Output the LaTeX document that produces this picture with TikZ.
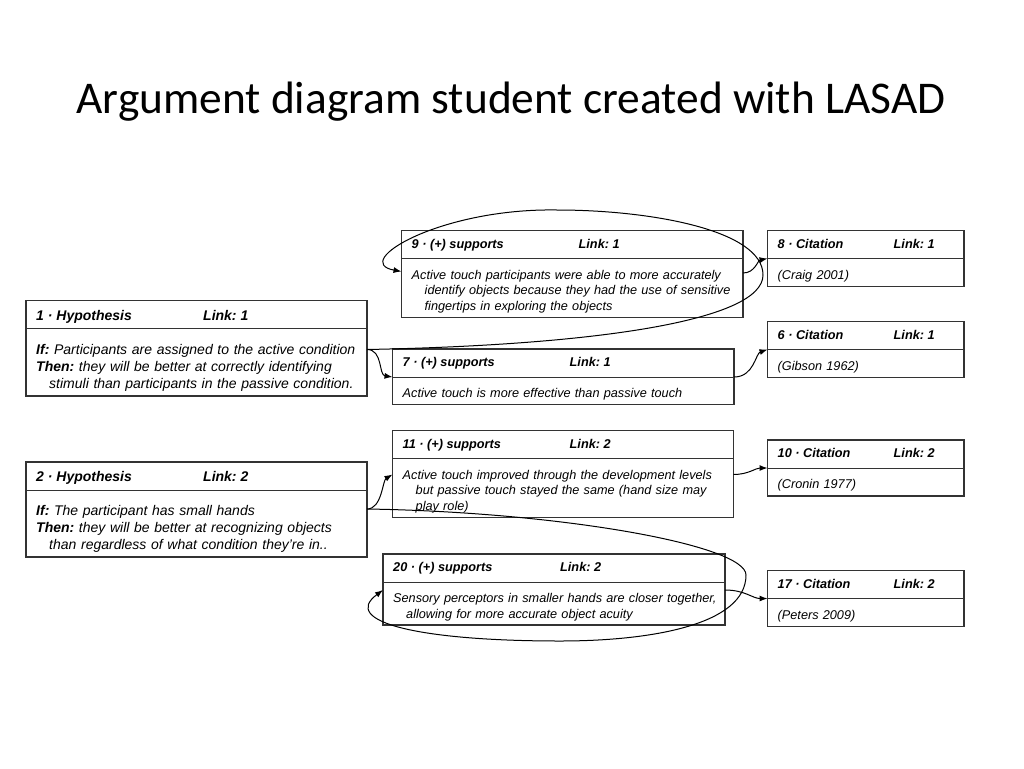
\documentclass[tikz,border=0pt]{standalone}
\usepackage{fontspec}
\setmainfont{Liberation Sans}
\newfontfamily\titlefont{Carlito}
\usetikzlibrary{arrows.meta}
\frenchspacing

\begin{document}
\begin{tikzpicture}[x=1pt, y=-1pt,
  argbox/.style={draw=black!80, line width=1.2pt, anchor=north west, inner sep=0pt, outer sep=0pt},
  rule/.style={draw=black!80, line width=1pt},
  head/.style={anchor=base west, inner sep=0pt, font=\fontsize{12.7}{15.5}\selectfont\bfseries\itshape},
  hyphead/.style={head, font=\fontsize{14}{17}\selectfont\bfseries\itshape},
  body/.style={anchor=base west, inner sep=0pt, align=left, text width=330pt, font=\fontsize{12.7}{15.5}\selectfont\itshape},
  hypbody/.style={body, font=\fontsize{14}{17}\selectfont\itshape},
  link/.style={draw=black, line width=1pt, -{Latex[length=8pt, width=6pt]}}]
\useasboundingbox (0,0) rectangle (1024,768);
	\node[font=\titlefont\fontsize{45.4}{53}\selectfont, anchor=base] (title) at (511,113) {Argument diagram student created with LASAD};
	% hypotheses
	\node[argbox, minimum width=341pt, minimum height=95.5pt] (hyp1) at (26,300.5) {};
	\node[argbox, minimum width=341pt, minimum height=95pt] (hyp2) at (26,462) {};
	% supports
	\node[argbox, minimum width=341.5pt, minimum height=87pt] (sup9) at (401.5,230.5) {};
	\node[argbox, minimum width=341.5pt, minimum height=55.5pt] (sup7) at (392.5,349) {};
	\node[argbox, minimum width=341pt, minimum height=87pt] (sup11) at (392.5,430.5) {};
	\node[argbox, minimum width=342pt, minimum height=71pt] (sup20) at (383,554) {};
	% citations
	\node[argbox, minimum width=196.5pt, minimum height=56pt] (cit8) at (767.5,230.5) {};
	\node[argbox, minimum width=196.5pt, minimum height=56pt] (cit6) at (767.5,321.5) {};
	\node[argbox, minimum width=196.5pt, minimum height=56pt] (cit10) at (767.5,440) {};
	\node[argbox, minimum width=196.5pt, minimum height=56pt] (cit17) at (767.5,570.5) {};
	\foreach \b in {hyp1,hyp2,sup9,sup7,sup11,sup20,cit8,cit6,cit10,cit17}
		\draw[rule] ([yshift=-28pt]\b.north west) -- ([yshift=-28pt]\b.north east);
	% headers
	\node[hyphead] (hyp1h) at ([xshift=10pt,yshift=-19.5pt]hyp1.north west) {1 · Hypothesis};
	\node[hyphead] (hyp1l) at ([xshift=177pt,yshift=-19.5pt]hyp1.north west) {Link: 1};
	\node[hyphead] (hyp2h) at ([xshift=10pt,yshift=-19.5pt]hyp2.north west) {2 · Hypothesis};
	\node[hyphead] (hyp2l) at ([xshift=177pt,yshift=-19.5pt]hyp2.north west) {Link: 2};
	\node[head] (sup9h) at ([xshift=10pt,yshift=-17.5pt]sup9.north west) {9 · (+) supports};
	\node[head] (sup9l) at ([xshift=177pt,yshift=-17.5pt]sup9.north west) {Link: 1};
	\node[head] (sup7h) at ([xshift=10pt,yshift=-17.5pt]sup7.north west) {7 · (+) supports};
	\node[head] (sup7l) at ([xshift=177pt,yshift=-17.5pt]sup7.north west) {Link: 1};
	\node[head] (sup11h) at ([xshift=10pt,yshift=-17.5pt]sup11.north west) {11 · (+) supports};
	\node[head] (sup11l) at ([xshift=177pt,yshift=-17.5pt]sup11.north west) {Link: 2};
	\node[head] (sup20h) at ([xshift=10pt,yshift=-17.5pt]sup20.north west) {20 · (+) supports};
	\node[head] (sup20l) at ([xshift=177pt,yshift=-17.5pt]sup20.north west) {Link: 2};
	\node[head] (cit8h) at ([xshift=10pt,yshift=-17.5pt]cit8.north west) {8 · Citation};
	\node[head] (cit8l) at ([xshift=126pt,yshift=-17.5pt]cit8.north west) {Link: 1};
	\node[head] (cit6h) at ([xshift=10pt,yshift=-17.5pt]cit6.north west) {6 · Citation};
	\node[head] (cit6l) at ([xshift=126pt,yshift=-17.5pt]cit6.north west) {Link: 1};
	\node[head] (cit10h) at ([xshift=10pt,yshift=-17.5pt]cit10.north west) {10 · Citation};
	\node[head] (cit10l) at ([xshift=126pt,yshift=-17.5pt]cit10.north west) {Link: 2};
	\node[head] (cit17h) at ([xshift=10pt,yshift=-17.5pt]cit17.north west) {17 · Citation};
	\node[head] (cit17l) at ([xshift=126pt,yshift=-17.5pt]cit17.north west) {Link: 2};
	% bodies
	\node[hypbody] (hyp1b) at ([xshift=10pt,yshift=-54pt]hyp1.north west) {\textbf{If:} Participants are assigned to the active condition\\\textbf{Then:} they will be better at correctly identifying\\\hspace*{13pt}stimuli than participants in the passive condition.};
	\node[hypbody] (hyp2b) at ([xshift=10pt,yshift=-53.5pt]hyp2.north west) {\textbf{If:} The participant has small hands\\\textbf{Then:} they will be better at recognizing objects\\\hspace*{13pt}than regardless of what condition they’re in..};
	\node[body] (sup9b) at ([xshift=10pt,yshift=-48.5pt]sup9.north west) {Active touch participants were able to more accurately\\\hspace*{13pt}identify objects because they had the use of sensitive\\\hspace*{13pt}fingertips in exploring the objects};
	\node[body] (sup7b) at ([xshift=10pt,yshift=-48.5pt]sup7.north west) {Active touch is more effective than passive touch};
	\node[body] (sup11b) at ([xshift=10pt,yshift=-48.5pt]sup11.north west) {Active touch improved through the development levels\\\hspace*{13pt}but passive touch stayed the same (hand size may\\\hspace*{13pt}play role)};
	\node[body] (sup20b) at ([xshift=10pt,yshift=-48.5pt]sup20.north west) {Sensory perceptors in smaller hands are closer together,\\\hspace*{13pt}allowing for more accurate object acuity};
	\node[body] (cit8b) at ([xshift=10pt,yshift=-48.5pt]cit8.north west) {(Craig 2001)};
	\node[body] (cit6b) at ([xshift=10pt,yshift=-48.5pt]cit6.north west) {(Gibson 1962)};
	\node[body] (cit10b) at ([xshift=10pt,yshift=-48.5pt]cit10.north west) {(Cronin 1977)};
	\node[body] (cit17b) at ([xshift=10pt,yshift=-48.5pt]cit17.north west) {(Peters 2009)};
	% links
	\draw[link] ([yshift=-49pt]hyp1.north east) .. controls +(16,0) and +(-14,-2) .. ([yshift=-28pt]sup7.north west);
	\draw[link] ([yshift=-49pt]hyp1.north east) .. controls (600,345) and (763,320) .. (763,275) .. controls (763,230) and (650,210) .. (557,210) .. controls (440,208) and (350,262) .. ([yshift=-41pt]sup9.north west);
	\draw[link] ([yshift=-42.5pt]sup9.north east) .. controls +(12,0) and +(-10,2) .. ([yshift=-28pt]cit8.north west);
	\draw[link] ([yshift=-28pt]sup7.north east) .. controls +(20,0) and +(-12,4) .. ([yshift=-28pt]cit6.north west);
	\draw[link] ([yshift=-47pt]hyp2.north east) .. controls +(15,0) and +(-10,6) .. ([yshift=-44pt]sup11.north west);
	\draw[link] ([yshift=-47pt]hyp2.north east) .. controls (560,512) and (746,545) .. (746,575) .. controls (746,625) and (650,641) .. (560,641) .. controls (420,641) and (340,622) .. ([yshift=-36pt]sup20.north west);
	\draw[link] ([yshift=-44pt]sup11.north east) .. controls +(15,0) and +(-12,0) .. ([yshift=-28pt]cit10.north west);
	\draw[link] ([yshift=-36pt]sup20.north east) .. controls +(20,0) and +(-15,0) .. ([yshift=-28pt]cit17.north west);
\end{tikzpicture}
\end{document}
